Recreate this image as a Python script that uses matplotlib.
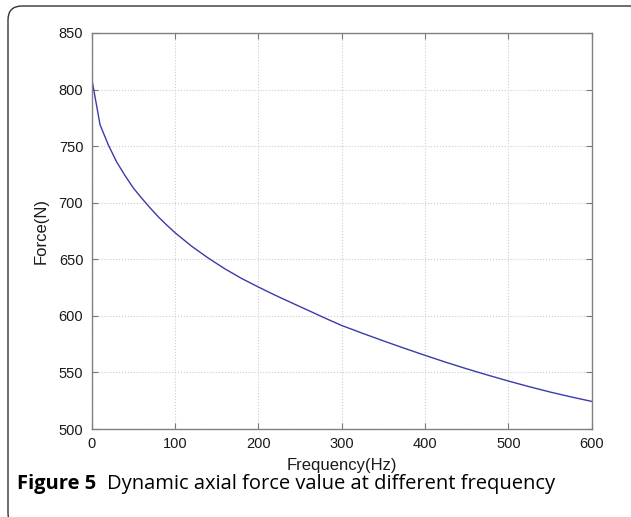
import numpy as np
import matplotlib.pyplot as plt
from matplotlib.patches import FancyBboxPatch
from matplotlib.transforms import IdentityTransform

# values
freq_hz = [0, 10, 20, 30, 40, 50, 60, 70, 80, 90, 100, 120, 140, 160, 180, 200,
           220, 240, 260, 280, 300, 325, 350, 375, 400, 425, 450, 475, 500,
           525, 550, 575, 600]
force_n = [810, 769, 751, 736, 724, 713, 704, 695.5, 687.5, 680.3, 673.5, 661.5, 651,
           641.5, 633, 625.5, 618.3, 611.5, 604.8, 598, 591.5, 584.6, 577.9, 571.4,
           565.1, 559, 553.2, 547.7, 542.4, 537.4, 532.7, 528.4, 524.4]

x_ticks = [0, 100, 200, 300, 400, 500, 600]
y_ticks = [500, 550, 600, 650, 700, 750, 800, 850]

caption_bold = 'Figure 5'
caption_text = 'Dynamic axial force value at different frequency'

plt.rcParams['font.family'] = ['Liberation Sans', 'DejaVu Sans']

fig = plt.figure(figsize=(6.31, 5.17), dpi=100)
ax = fig.add_axes([0.1453, 0.1702, 0.7924, 0.766])

ax.plot(freq_hz, force_n, color='#3b3ba8', lw=1.0)

ax.set_xlim(0, 600)
ax.set_ylim(500, 850)
ax.set_xticks(x_ticks)
ax.set_yticks(y_ticks)
ax.grid(True, color='#cccccc', linestyle=':', linewidth=0.8)
ax.tick_params(direction='in', length=4, color='#777777', labelsize=10.5,
               top=True, right=True, pad=6, labelcolor='#1a1a1a')
for sp in ax.spines.values():
    sp.set_color('#808080')
    sp.set_linewidth(1.0)

ax.set_xlabel('Frequency(Hz)', fontsize=12, color='#1a1a1a', labelpad=5)
ax.set_ylabel('Force(N)', fontsize=12, color='#1a1a1a', labelpad=7)

# outer frame with a rounded corner (runs off the right and bottom edges)
frame = FancyBboxPatch((8, -10), 660, 521, boxstyle='round,pad=0,rounding_size=14',
                       transform=IdentityTransform(), fill=False,
                       edgecolor='#333333', linewidth=1.0, clip_on=False)
fig.patches.append(frame)

t = fig.text(17 / 631, 1 - 484 / 517, caption_bold, fontsize=14.5, fontweight='bold',
             family='Open Sans', va='center', ha='left')
fig.canvas.draw()
bb = t.get_window_extent()
fig.text((bb.x1 + 11) / 631, 1 - 484 / 517, caption_text, fontsize=14.5,
         family='Open Sans', va='center', ha='left')

fig.savefig('out.png', dpi=100)
